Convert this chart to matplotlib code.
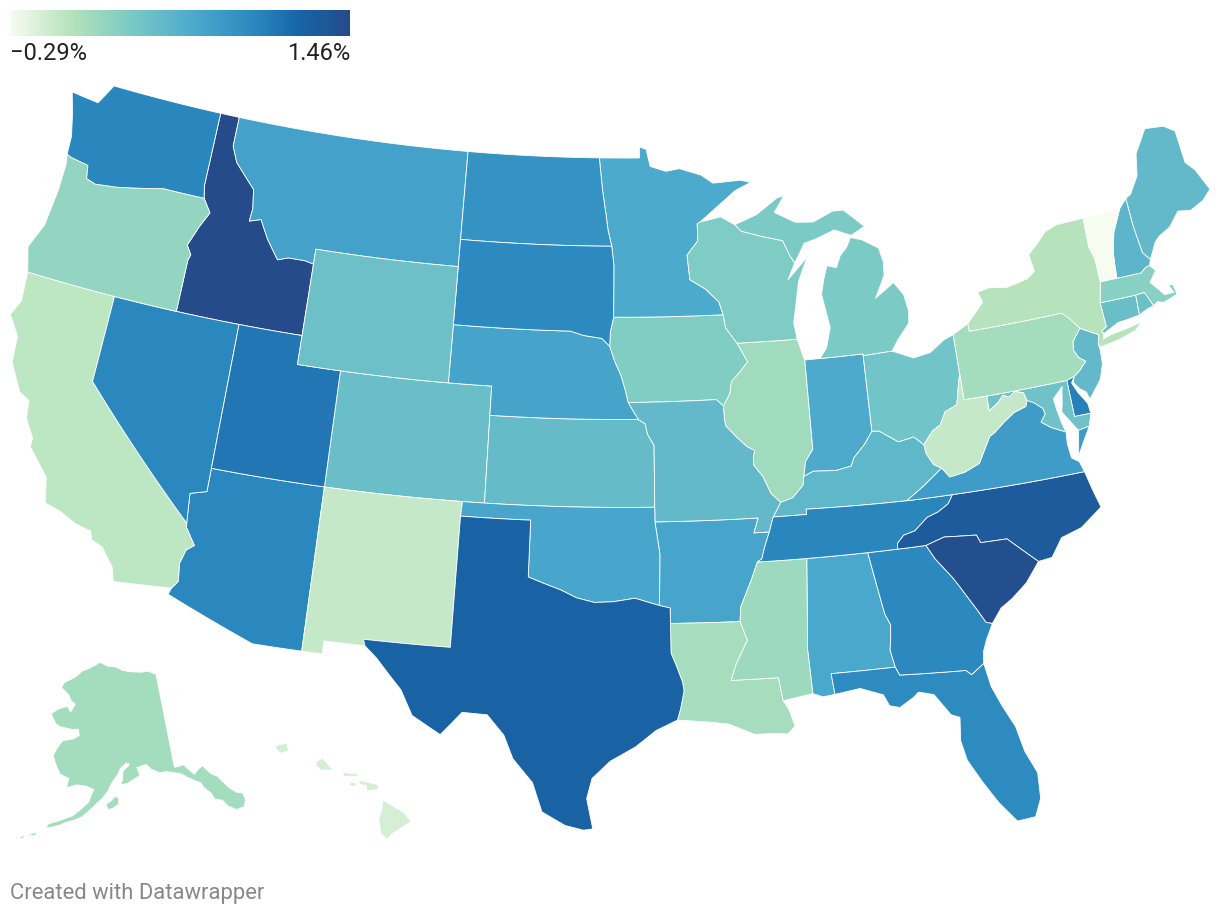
import numpy as np
import matplotlib
matplotlib.use("Agg")
import matplotlib.pyplot as plt
from matplotlib.colors import LinearSegmentedColormap, Normalize
from matplotlib.patches import Polygon

# population change by state, in percent
states = ["AL", "AK", "AZ", "AR", "CA", "CO", "CT", "DE", "FL", "GA",
          "HI", "ID", "IL", "IN", "IA", "KS", "KY", "LA", "ME", "MD",
          "MA", "MI", "MN", "MS", "MO", "MT", "NE", "NV", "NH", "NJ",
          "NM", "NY", "NC", "ND", "OH", "OK", "OR", "PA", "RI", "SC",
          "SD", "TN", "TX", "UT", "VT", "VA", "WA", "WV", "WI", "WY"]
growth = [0.67, 0.12, 0.97, 0.70, -0.01, 0.45, 0.45, 1.02, 0.94, 0.96,
          -0.12, 1.46, 0.13, 0.65, 0.30, 0.48, 0.53, 0.10, 0.50, 0.42,
          0.27, 0.33, 0.66, 0.15, 0.50, 0.74, 0.71, 0.97, 0.55, 0.50,
          -0.05, 0.02, 1.30, 0.87, 0.40, 0.69, 0.20, 0.12, 0.43, 1.42,
          0.95, 0.98, 1.23, 1.09, -0.29, 0.78, 0.98, -0.05, 0.31, 0.43]

legend_min, legend_max = -0.29, 1.46
legend_labels = ["\u22120.29%", "1.46%"]
scale_stops = [0.0, 0.18, 0.35, 0.55, 0.72, 0.85, 1.0]
scale_colors = ["#f7fcf0", "#b5e3bb", "#7ccbc5", "#4aa8cd", "#2b88bf", "#1766a8", "#264b8b"]

# simplified state outlines, (lon, lat)
shapes = {
    "WA": [[(-124.73, 48.38), (-123.3, 48.28), (-122.75, 49.0), (-117.04, 49.0), (-117.04, 46.42), (-116.92, 46.0),
            (-118.98, 46.0), (-119.9, 45.85), (-121.2, 45.65), (-122.3, 45.55), (-122.78, 45.65), (-122.9, 46.1),
            (-123.8, 46.2), (-124.05, 46.27), (-124.1, 46.9), (-124.4, 47.7)]],
    "OR": [[(-124.05, 46.27), (-123.8, 46.2), (-122.9, 46.1), (-122.78, 45.65), (-122.3, 45.55), (-121.2, 45.65),
            (-119.9, 45.85), (-118.98, 46.0), (-116.92, 46.0), (-116.48, 45.55), (-116.85, 45.0), (-117.22, 44.3),
            (-116.95, 44.0), (-117.03, 43.8), (-117.03, 42.0), (-120.0, 42.0), (-124.21, 42.0), (-124.55, 42.84),
            (-124.1, 43.7), (-123.95, 45.0), (-123.95, 45.9)]],
    "ID": [[(-117.04, 49.0), (-116.05, 49.0), (-116.05, 47.98), (-115.7, 47.45), (-114.6, 46.65), (-114.45, 46.0),
            (-114.5, 45.55), (-113.95, 45.68), (-113.45, 45.05), (-112.8, 44.42), (-112.3, 44.55), (-111.5, 44.55),
            (-111.05, 44.48), (-111.05, 42.0), (-114.04, 42.0), (-117.03, 42.0), (-117.03, 43.8), (-116.95, 44.0),
            (-117.22, 44.3), (-116.85, 45.0), (-116.48, 45.55), (-116.92, 46.0), (-117.04, 46.42)]],
    "MT": [[(-116.05, 49.0), (-104.05, 49.0), (-104.05, 45.0), (-111.05, 45.0), (-111.05, 44.48), (-111.5, 44.55),
            (-112.3, 44.55), (-112.8, 44.42), (-113.45, 45.05), (-113.95, 45.68), (-114.5, 45.55), (-114.45, 46.0),
            (-114.6, 46.65), (-115.7, 47.45), (-116.05, 47.98)]],
    "WY": [[(-111.05, 45.0), (-104.05, 45.0), (-104.05, 41.0), (-111.05, 41.0), (-111.05, 44.48)]],
    "NV": [[(-120.0, 42.0), (-114.04, 42.0), (-114.04, 36.19), (-114.74, 36.02), (-114.63, 35.0), (-120.0, 39.0)]],
    "CA": [[(-124.21, 42.0), (-120.0, 42.0), (-120.0, 39.0), (-114.63, 35.0), (-114.6, 34.85), (-114.13, 34.3),
            (-114.43, 34.1), (-114.6, 33.6), (-114.5, 33.0), (-114.72, 32.72), (-117.12, 32.53), (-117.3, 33.0),
            (-117.9, 33.6), (-118.4, 33.75), (-118.5, 34.03), (-119.2, 34.15), (-120.0, 34.45), (-120.64, 34.58),
            (-120.9, 35.45), (-121.9, 36.3), (-121.9, 36.6), (-122.4, 37.2), (-122.5, 37.8), (-123.0, 38.0),
            (-123.7, 38.9), (-123.8, 39.8), (-124.4, 40.44), (-124.1, 41.0)]],
    "AZ": [[(-114.04, 37.0), (-109.05, 37.0), (-109.05, 31.33), (-111.07, 31.33), (-114.81, 32.49), (-114.72, 32.72),
            (-114.5, 33.0), (-114.6, 33.6), (-114.43, 34.1), (-114.13, 34.3), (-114.6, 34.85), (-114.63, 35.0),
            (-114.74, 36.02), (-114.04, 36.19)]],
    "UT": [[(-114.04, 42.0), (-111.05, 42.0), (-111.05, 41.0), (-109.05, 41.0), (-109.05, 37.0), (-114.04, 37.0)]],
    "CO": [[(-109.05, 41.0), (-102.05, 41.0), (-102.05, 40.0), (-102.04, 37.0), (-109.05, 37.0)]],
    "NM": [[(-109.05, 37.0), (-103.0, 37.0), (-103.04, 36.5), (-103.06, 32.0), (-106.62, 32.0), (-106.53, 31.78),
            (-108.21, 31.78), (-108.21, 31.33), (-109.05, 31.33)]],
    "TX": [[(-103.04, 36.5), (-100.0, 36.5), (-100.0, 34.56), (-99.4, 34.38), (-98.6, 34.15), (-97.95, 33.9),
            (-97.2, 33.75), (-96.4, 33.78), (-95.5, 33.9), (-94.48, 33.64), (-94.04, 33.55), (-94.04, 33.02),
            (-94.04, 32.0), (-93.85, 31.6), (-93.6, 31.0), (-93.55, 30.7), (-93.7, 30.1), (-93.84, 29.7),
            (-94.7, 29.35), (-95.5, 28.8), (-96.5, 28.3), (-97.2, 27.7), (-97.4, 27.0), (-97.15, 25.95),
            (-97.5, 25.9), (-98.2, 26.05), (-99.1, 26.5), (-99.5, 27.5), (-100.3, 28.3), (-100.7, 29.1),
            (-101.4, 29.77), (-102.4, 29.8), (-103.2, 28.98), (-104.37, 29.56), (-104.9, 30.4), (-105.4, 30.85),
            (-106.0, 31.4), (-106.53, 31.78), (-106.62, 32.0), (-103.06, 32.0)]],
    "OK": [[(-103.0, 37.0), (-94.62, 37.0), (-94.62, 36.5), (-94.43, 35.4), (-94.48, 33.64), (-95.5, 33.9),
            (-96.4, 33.78), (-97.2, 33.75), (-97.95, 33.9), (-98.6, 34.15), (-99.4, 34.38), (-100.0, 34.56),
            (-100.0, 36.5), (-103.04, 36.5)]],
    "KS": [[(-102.05, 40.0), (-95.31, 40.0), (-95.0, 39.85), (-94.9, 39.5), (-94.61, 39.1), (-94.62, 37.0),
            (-102.04, 37.0)]],
    "NE": [[(-104.05, 43.0), (-98.5, 43.0), (-97.85, 42.86), (-97.0, 42.77), (-96.63, 42.5), (-96.4, 42.0),
            (-96.1, 41.5), (-95.9, 41.0), (-95.77, 40.58), (-95.31, 40.0), (-102.05, 40.0), (-102.05, 41.0),
            (-104.05, 41.0)]],
    "SD": [[(-104.05, 45.94), (-96.56, 45.94), (-96.45, 45.3), (-96.45, 43.5), (-96.6, 43.0), (-96.63, 42.5),
            (-97.0, 42.77), (-97.85, 42.86), (-98.5, 43.0), (-104.05, 43.0)]],
    "ND": [[(-104.05, 49.0), (-97.23, 49.0), (-97.05, 47.9), (-96.85, 47.0), (-96.75, 46.5), (-96.56, 45.94),
            (-104.05, 45.94)]],
    "MN": [[(-97.23, 49.0), (-95.15, 49.0), (-95.15, 49.38), (-94.8, 49.3), (-94.6, 48.7), (-93.8, 48.52),
            (-93.1, 48.6), (-92.0, 48.35), (-91.4, 48.05), (-90.0, 48.1), (-89.49, 48.0), (-90.3, 47.75),
            (-91.3, 47.2), (-92.15, 46.72), (-92.29, 46.67), (-92.29, 46.08), (-92.85, 45.6), (-92.75, 44.75),
            (-92.0, 44.4), (-91.4, 43.95), (-91.22, 43.5), (-96.45, 43.5), (-96.45, 45.3), (-96.56, 45.94),
            (-96.75, 46.5), (-96.85, 47.0), (-97.05, 47.9)]],
    "IA": [[(-96.45, 43.5), (-91.22, 43.5), (-91.14, 43.05), (-90.64, 42.5), (-90.2, 41.84), (-90.58, 41.52),
            (-91.0, 41.2), (-91.1, 40.8), (-91.42, 40.38), (-91.73, 40.61), (-95.77, 40.58), (-95.9, 41.0),
            (-96.1, 41.5), (-96.4, 42.0), (-96.63, 42.5), (-96.6, 43.0)]],
    "MO": [[(-95.77, 40.58), (-91.73, 40.61), (-91.42, 40.38), (-91.4, 39.93), (-91.36, 39.7), (-90.9, 39.3),
            (-90.45, 38.95), (-90.12, 38.8), (-90.2, 38.6), (-90.2, 38.3), (-89.83, 37.9), (-89.52, 37.3),
            (-89.13, 36.98), (-89.5, 36.5), (-89.71, 36.0), (-90.37, 36.0), (-90.15, 36.5), (-94.62, 36.5),
            (-94.62, 37.0), (-94.61, 39.1), (-94.9, 39.5), (-95.0, 39.85), (-95.31, 40.0)]],
    "AR": [[(-94.62, 36.5), (-90.15, 36.5), (-90.37, 36.0), (-89.71, 36.0), (-89.95, 35.5), (-90.1, 35.1),
            (-90.3, 35.0), (-90.6, 34.4), (-91.1, 33.5), (-91.16, 33.0), (-94.04, 33.02), (-94.04, 33.55),
            (-94.48, 33.64), (-94.43, 35.4)]],
    "LA": [[(-94.04, 33.02), (-91.16, 33.0), (-90.9, 32.35), (-91.4, 31.56), (-91.64, 31.0), (-89.73, 31.0),
            (-89.6, 30.2), (-89.4, 29.9), (-89.2, 29.3), (-89.5, 29.05), (-90.1, 29.1), (-90.8, 29.1),
            (-91.8, 29.5), (-92.6, 29.6), (-93.84, 29.7), (-93.7, 30.1), (-93.55, 30.7), (-93.6, 31.0),
            (-93.85, 31.6), (-94.04, 32.0)]],
    "MS": [[(-91.16, 33.0), (-91.1, 33.5), (-90.6, 34.4), (-90.3, 35.0), (-88.2, 35.0), (-88.47, 31.9),
            (-88.4, 30.37), (-89.6, 30.2), (-89.73, 31.0), (-91.64, 31.0), (-91.4, 31.56), (-90.9, 32.35)]],
    "TN": [[(-89.5, 36.5), (-88.05, 36.5), (-88.05, 36.68), (-83.68, 36.6), (-81.68, 36.59), (-81.93, 36.3),
            (-82.4, 36.08), (-82.9, 35.95), (-83.5, 35.55), (-84.0, 35.45), (-84.3, 35.2), (-84.32, 35.0),
            (-85.6, 35.0), (-88.2, 35.0), (-90.3, 35.0), (-90.1, 35.1), (-89.95, 35.5), (-89.71, 36.0)]],
    "KY": [[(-89.13, 36.98), (-88.6, 37.1), (-88.1, 37.5), (-88.03, 37.8), (-87.6, 37.95), (-86.6, 37.9),
            (-85.9, 38.0), (-85.75, 38.27), (-85.2, 38.7), (-84.82, 39.1), (-84.5, 39.08), (-83.7, 38.63),
            (-83.0, 38.73), (-82.6, 38.42), (-82.55, 38.1), (-82.3, 37.7), (-81.97, 37.54), (-82.9, 37.0),
            (-83.68, 36.6), (-88.05, 36.68), (-88.05, 36.5), (-89.5, 36.5)]],
    "IL": [[(-87.8, 42.49), (-90.64, 42.5), (-90.2, 41.84), (-90.58, 41.52), (-91.0, 41.2), (-91.1, 40.8),
            (-91.42, 40.38), (-91.4, 39.93), (-91.36, 39.7), (-90.9, 39.3), (-90.45, 38.95), (-90.12, 38.8),
            (-90.2, 38.6), (-90.2, 38.3), (-89.83, 37.9), (-89.52, 37.3), (-89.13, 36.98), (-88.6, 37.1),
            (-88.1, 37.5), (-88.03, 37.8), (-87.9, 38.3), (-87.53, 38.7), (-87.53, 41.76), (-87.6, 41.9)]],
    "IN": [[(-87.53, 41.76), (-86.82, 41.76), (-84.81, 41.76), (-84.81, 41.7), (-84.82, 39.1), (-85.2, 38.7),
            (-85.75, 38.27), (-85.9, 38.0), (-86.6, 37.9), (-87.6, 37.95), (-88.03, 37.8), (-87.9, 38.3),
            (-87.53, 38.7)]],
    "OH": [[(-84.81, 41.7), (-83.45, 41.73), (-82.5, 41.4), (-81.7, 41.5), (-81.0, 41.85), (-80.52, 41.98),
            (-80.52, 40.64), (-80.72, 40.07), (-80.87, 39.6), (-81.45, 39.42), (-81.75, 39.0), (-82.13, 38.84),
            (-82.6, 38.42), (-83.0, 38.73), (-83.7, 38.63), (-84.5, 39.08), (-84.82, 39.1)]],
    "MI": [[(-86.82, 41.76), (-84.81, 41.76), (-84.81, 41.7), (-83.45, 41.73), (-83.1, 42.1), (-82.5, 42.6),
            (-82.42, 43.0), (-82.55, 43.6), (-82.95, 44.05), (-83.9, 43.6), (-83.6, 44.0), (-83.35, 44.35),
            (-83.3, 44.8), (-83.45, 45.3), (-84.2, 45.65), (-84.75, 45.78), (-85.0, 45.45), (-85.35, 45.2),
            (-85.6, 44.8), (-86.05, 44.9), (-86.25, 44.5), (-86.45, 43.95), (-86.3, 43.23), (-86.2, 42.78),
            (-86.47, 42.1)],
           [(-90.42, 46.57), (-89.3, 46.87), (-88.2, 47.4), (-87.85, 47.45), (-88.4, 46.9), (-87.4, 46.5),
            (-86.5, 46.45), (-85.5, 46.75), (-84.95, 46.75), (-84.5, 46.45), (-84.0, 46.1), (-84.7, 45.85),
            (-85.5, 46.1), (-86.5, 45.85), (-87.05, 45.75), (-87.6, 45.1), (-87.8, 45.35), (-88.1, 45.9),
            (-89.1, 46.1), (-90.12, 46.33)]],
    "WI": [[(-92.15, 46.72), (-91.1, 46.87), (-90.42, 46.57), (-90.12, 46.33), (-89.1, 46.1), (-88.1, 45.9),
            (-87.8, 45.35), (-87.6, 45.1), (-88.0, 44.55), (-86.95, 45.28), (-87.25, 44.85), (-87.5, 44.45),
            (-87.7, 43.75), (-87.9, 43.05), (-87.8, 42.49), (-90.64, 42.5), (-91.14, 43.05), (-91.22, 43.5),
            (-91.4, 43.95), (-92.0, 44.4), (-92.75, 44.75), (-92.85, 45.6), (-92.29, 46.08), (-92.29, 46.67)]],
    "AL": [[(-88.2, 35.0), (-85.6, 35.0), (-85.18, 32.86), (-84.99, 32.46), (-85.05, 32.0), (-85.13, 31.6),
            (-85.0, 31.0), (-87.6, 31.0), (-87.52, 30.28), (-88.0, 30.23), (-88.4, 30.37), (-88.47, 31.9)]],
    "GA": [[(-85.6, 35.0), (-84.32, 35.0), (-83.11, 35.0), (-82.8, 34.5), (-82.2, 33.8), (-81.97, 33.47),
            (-81.4, 32.6), (-81.1, 32.1), (-80.85, 32.03), (-81.2, 31.5), (-81.4, 31.1), (-81.45, 30.72),
            (-82.0, 30.4), (-82.2, 30.57), (-84.86, 30.71), (-85.0, 31.0), (-85.13, 31.6), (-85.05, 32.0),
            (-84.99, 32.46), (-85.18, 32.86)]],
    "FL": [[(-87.6, 31.0), (-85.0, 31.0), (-84.86, 30.71), (-82.2, 30.57), (-82.0, 30.4), (-81.45, 30.72),
            (-81.3, 29.9), (-81.0, 29.2), (-80.6, 28.4), (-80.4, 27.5), (-80.05, 26.7), (-80.1, 25.8),
            (-80.4, 25.2), (-81.1, 25.15), (-81.7, 25.9), (-82.2, 26.7), (-82.65, 27.5), (-82.8, 28.2),
            (-82.7, 29.0), (-83.03, 29.13), (-83.6, 29.9), (-84.2, 30.05), (-84.4, 29.9), (-85.0, 29.6),
            (-85.4, 29.7), (-85.6, 30.1), (-86.5, 30.4), (-87.52, 30.28)]],
    "SC": [[(-83.11, 35.0), (-82.3, 35.2), (-80.93, 35.1), (-80.8, 34.82), (-79.68, 34.8), (-78.54, 33.85),
            (-79.2, 33.2), (-79.9, 32.75), (-80.4, 32.5), (-80.85, 32.03), (-81.1, 32.1), (-81.4, 32.6),
            (-81.97, 33.47), (-82.2, 33.8), (-82.8, 34.5)]],
    "NC": [[(-84.32, 35.0), (-84.3, 35.2), (-84.0, 35.45), (-83.5, 35.55), (-82.9, 35.95), (-82.4, 36.08),
            (-81.93, 36.3), (-81.68, 36.59), (-75.87, 36.55), (-75.7, 35.9), (-75.5, 35.25), (-76.5, 34.7),
            (-77.4, 34.5), (-77.95, 33.9), (-78.54, 33.85), (-79.68, 34.8), (-80.8, 34.82), (-80.93, 35.1),
            (-82.3, 35.2), (-83.11, 35.0)]],
    "VA": [[(-75.87, 36.55), (-81.68, 36.59), (-83.68, 36.6), (-82.9, 37.0), (-81.97, 37.54), (-81.68, 37.2),
            (-81.0, 37.28), (-80.3, 37.5), (-80.0, 37.9), (-79.65, 38.35), (-79.4, 38.45), (-78.9, 38.75),
            (-78.4, 39.0), (-77.83, 39.13), (-77.73, 39.32), (-77.45, 39.2), (-77.1, 38.95), (-77.05, 38.75),
            (-77.3, 38.5), (-76.9, 38.25), (-76.3, 38.0), (-76.35, 37.6), (-76.3, 37.1), (-76.0, 36.92)],
           [(-75.97, 37.12), (-75.75, 37.97), (-75.24, 38.03), (-75.6, 37.6)]],
    "WV": [[(-80.52, 40.64), (-80.52, 39.72), (-79.48, 39.72), (-79.48, 39.2), (-79.0, 39.45), (-78.76, 39.65),
            (-78.5, 39.55), (-78.18, 39.7), (-77.82, 39.6), (-77.73, 39.32), (-77.83, 39.13), (-78.4, 39.0),
            (-78.9, 38.75), (-79.4, 38.45), (-79.65, 38.35), (-80.0, 37.9), (-80.3, 37.5), (-81.0, 37.28),
            (-81.68, 37.2), (-81.97, 37.54), (-82.3, 37.7), (-82.55, 38.1), (-82.6, 38.42), (-82.13, 38.84),
            (-81.75, 39.0), (-81.45, 39.42), (-80.87, 39.6), (-80.72, 40.07)]],
    "MD": [[(-79.48, 39.72), (-75.79, 39.72), (-75.79, 38.46), (-75.05, 38.45), (-75.24, 38.03), (-75.75, 37.97),
            (-76.0, 38.3), (-76.3, 38.7), (-76.2, 39.0), (-76.1, 39.4), (-76.05, 39.55), (-76.55, 39.2),
            (-76.5, 38.8), (-76.4, 38.3), (-76.3, 38.0), (-76.9, 38.25), (-77.3, 38.5), (-77.05, 38.75),
            (-77.1, 38.95), (-77.45, 39.2), (-77.73, 39.32), (-77.82, 39.6), (-78.18, 39.7), (-78.5, 39.55),
            (-78.76, 39.65), (-79.0, 39.45), (-79.48, 39.2)]],
    "DE": [[(-75.79, 39.72), (-75.42, 39.8), (-75.6, 39.6), (-75.42, 39.25), (-75.09, 38.8), (-75.05, 38.45),
            (-75.79, 38.46)]],
    "PA": [[(-80.52, 41.98), (-79.76, 42.27), (-79.76, 42.0), (-75.36, 42.0), (-75.1, 41.8), (-74.69, 41.36),
            (-75.13, 40.97), (-75.2, 40.69), (-75.05, 40.4), (-74.76, 40.22), (-75.13, 39.95), (-75.42, 39.8),
            (-75.79, 39.72), (-79.48, 39.72), (-80.52, 39.72), (-80.52, 40.64)]],
    "NJ": [[(-74.69, 41.36), (-73.9, 41.0), (-74.02, 40.7), (-74.0, 40.45), (-74.05, 40.0), (-74.3, 39.5),
            (-74.95, 38.93), (-75.05, 39.2), (-75.3, 39.35), (-75.52, 39.6), (-75.42, 39.8), (-75.13, 39.95),
            (-74.76, 40.22), (-75.05, 40.4), (-75.2, 40.69), (-75.13, 40.97)]],
    "NY": [[(-79.76, 42.27), (-79.76, 42.0), (-75.36, 42.0), (-75.1, 41.8), (-74.69, 41.36), (-73.9, 41.0),
            (-74.02, 40.7), (-73.95, 40.58), (-73.0, 40.68), (-72.2, 40.85), (-71.86, 41.07), (-72.6, 40.98),
            (-73.4, 40.9), (-73.75, 40.82), (-73.66, 41.0), (-73.73, 41.1), (-73.48, 41.21), (-73.5, 42.05),
            (-73.26, 42.75), (-73.25, 43.57), (-73.4, 44.0), (-73.34, 45.01), (-74.7, 45.0), (-75.3, 44.85),
            (-75.8, 44.5), (-76.3, 44.2), (-76.2, 43.6), (-76.6, 43.4), (-77.6, 43.25), (-78.5, 43.35),
            (-79.05, 43.27), (-78.9, 42.9)]],
    "VT": [[(-73.26, 42.75), (-72.46, 42.73), (-72.4, 43.2), (-72.32, 43.65), (-72.05, 44.3), (-71.5, 45.01),
            (-73.34, 45.01), (-73.4, 44.0), (-73.25, 43.57)]],
    "NH": [[(-72.46, 42.73), (-71.3, 42.7), (-71.0, 42.85), (-70.81, 42.87), (-70.7, 43.06), (-70.98, 43.35),
            (-71.08, 44.3), (-71.08, 45.3), (-71.5, 45.01), (-72.05, 44.3), (-72.32, 43.65), (-72.4, 43.2)]],
    "ME": [[(-70.7, 43.06), (-70.25, 43.6), (-70.0, 43.75), (-69.4, 43.95), (-68.8, 44.4), (-68.2, 44.3),
            (-67.5, 44.5), (-67.0, 44.8), (-67.43, 45.6), (-67.78, 45.93), (-67.8, 47.07), (-68.3, 47.35),
            (-69.23, 47.45), (-70.0, 46.7), (-70.25, 45.95), (-70.8, 45.4), (-71.08, 45.3), (-71.08, 44.3),
            (-70.98, 43.35)]],
    "MA": [[(-73.5, 42.05), (-73.26, 42.75), (-72.46, 42.73), (-71.3, 42.7), (-71.0, 42.85), (-70.81, 42.87),
            (-70.6, 42.65), (-71.0, 42.3), (-70.65, 41.95), (-70.5, 41.77), (-70.05, 41.76), (-70.2, 42.06),
            (-70.0, 42.02), (-69.95, 41.8), (-69.93, 41.67), (-70.5, 41.55), (-70.65, 41.53), (-70.9, 41.6),
            (-71.12, 41.5), (-71.2, 41.67), (-71.38, 42.02), (-71.8, 42.01)]],
    "RI": [[(-71.8, 42.01), (-71.38, 42.02), (-71.2, 41.67), (-71.12, 41.5), (-71.45, 41.45), (-71.86, 41.32)]],
    "CT": [[(-73.5, 42.05), (-71.8, 42.01), (-71.86, 41.32), (-72.5, 41.27), (-72.9, 41.25), (-73.3, 41.12),
            (-73.66, 41.0), (-73.73, 41.1), (-73.48, 41.21)]],
    "AK": [[(-141.0, 69.65), (-141.0, 60.3), (-139.1, 60.35), (-137.5, 59.2), (-136.5, 59.6), (-135.5, 59.8),
            (-134.5, 58.9), (-133.4, 58.4), (-132.5, 57.5), (-132.0, 57.0), (-131.0, 56.3), (-130.0, 56.0),
            (-130.0, 55.3), (-130.6, 54.7), (-132.0, 54.7), (-133.2, 55.3), (-133.8, 56.0), (-135.0, 56.3),
            (-135.4, 57.0), (-136.5, 57.8), (-136.6, 58.2), (-137.7, 58.6), (-139.0, 59.1), (-139.8, 59.5),
            (-141.3, 59.8), (-142.8, 60.05), (-144.0, 60.0), (-145.7, 60.5), (-146.5, 61.0), (-148.5, 60.8),
            (-148.0, 60.0), (-149.5, 59.6), (-150.5, 59.3), (-151.9, 59.2), (-151.5, 59.65), (-151.3, 60.55),
            (-150.2, 61.0), (-149.9, 61.2), (-150.6, 61.3), (-151.8, 60.8), (-152.3, 60.3), (-153.0, 59.8),
            (-153.8, 59.2), (-154.2, 58.7), (-155.3, 57.9), (-156.3, 57.4), (-157.5, 56.7), (-158.8, 56.0),
            (-160.0, 55.6), (-161.5, 55.3), (-162.5, 54.95), (-163.5, 54.7), (-164.9, 54.45), (-164.5, 54.9),
            (-163.0, 55.3), (-160.5, 56.0), (-159.0, 56.8), (-157.8, 57.5), (-157.4, 58.2), (-157.0, 58.7),
            (-158.5, 59.0), (-160.4, 59.05), (-162.2, 58.65), (-162.0, 59.6), (-163.8, 59.9), (-164.6, 60.5),
            (-165.3, 61.1), (-165.8, 61.6), (-165.3, 62.3), (-164.8, 62.8), (-164.2, 63.2), (-162.0, 63.5),
            (-160.8, 63.9), (-161.2, 64.5), (-162.5, 64.4), (-165.4, 64.5), (-166.5, 64.7), (-168.0, 65.6),
            (-166.5, 66.2), (-164.5, 66.6), (-163.5, 66.1), (-162.6, 66.9), (-163.8, 67.2), (-164.5, 67.7),
            (-166.8, 68.35), (-166.2, 68.9), (-163.5, 69.6), (-161.8, 70.3), (-160.0, 70.6), (-156.8, 71.3),
            (-154.5, 70.9), (-152.2, 70.85), (-150.5, 70.5), (-148.5, 70.3), (-145.0, 70.1), (-143.0, 70.1)],
           [(-152.3, 57.9), (-152.4, 57.3), (-153.3, 56.95), (-154.2, 56.75), (-154.7, 57.3), (-153.8, 57.6),
            (-153.0, 58.05)],
           [(-167.8, 53.4), (-166.0, 53.95), (-166.5, 53.5)],
           [(-169.2, 52.85), (-167.9, 53.5), (-168.3, 53.0)]],
    "HI": [[(-155.85, 20.27), (-155.1, 19.85), (-154.8, 19.52), (-155.5, 19.1), (-155.68, 18.91), (-155.9, 19.1),
            (-155.98, 19.6), (-155.85, 20.0)],
           [(-156.7, 20.95), (-156.0, 20.8), (-156.0, 20.63), (-156.4, 20.58), (-156.45, 20.78), (-156.68, 20.8)],
           [(-157.3, 21.22), (-156.75, 21.17), (-156.7, 21.1), (-157.25, 21.08)],
           [(-157.0, 20.9), (-156.8, 20.85), (-156.85, 20.73), (-157.05, 20.77)],
           [(-158.28, 21.58), (-158.05, 21.72), (-157.65, 21.3), (-158.1, 21.3), (-158.27, 21.45)],
           [(-159.75, 22.15), (-159.35, 22.23), (-159.3, 21.95), (-159.6, 21.88), (-159.78, 22.05)]],
}

# Albers USA style projection (d3 parameters), scale / translate fitted to 1220x916
K, TX, TY = 1663.0, 609.6, 457.6


def conic_equal_area(lon, lat, rotate, parallels, center, k, tx, ty):
    s1, s2 = np.sin(np.radians(parallels[0])), np.sin(np.radians(parallels[1]))
    n = (s1 + s2) / 2
    c = 1 + s1 * (2 * n - s1)
    r0 = np.sqrt(c) / n

    def raw(lam, phi):
        r = np.sqrt(c - 2 * n * np.sin(phi)) / n
        return r * np.sin(lam * n), r0 - r * np.cos(lam * n)

    cx, cy = raw(np.radians(center[0]), np.radians(center[1]))
    x, y = raw(np.radians(np.asarray(lon) + rotate), np.radians(np.asarray(lat)))
    return tx + k * (x - cx), ty - k * (y - cy)


def project(state, lon, lat):
    if state == "AK":
        return conic_equal_area(lon, lat, 154, (55, 65), (-2, 58.5), K * 0.35, TX - 0.307 * K, TY + 0.201 * K)
    if state == "HI":
        return conic_equal_area(lon, lat, 157, (8, 18), (-3, 19.9), K, TX - 0.205 * K, TY + 0.212 * K)
    return conic_equal_area(lon, lat, 96, (29.5, 45.5), (-0.6, 38.7), K, TX, TY)


def densify(ring, step=0.5):
    pts = []
    for a, b in zip(ring, ring[1:] + ring[:1]):
        m = max(1, int(np.ceil(max(abs(b[0] - a[0]), abs(b[1] - a[1])) / step)))
        for t in np.arange(m) / m:
            pts.append((a[0] + (b[0] - a[0]) * t, a[1] + (b[1] - a[1]) * t))
    return np.array(pts)


cmap = LinearSegmentedColormap.from_list("dw", list(zip(scale_stops, scale_colors)))
norm = Normalize(legend_min, legend_max)

fig = plt.figure(figsize=(12.2, 9.16), dpi=100)
ax = fig.add_axes([0, 0, 1, 1])
ax.set_xlim(0, 1220)
ax.set_ylim(916, 0)
ax.axis("off")

for st, val in zip(states, growth):
    for ring in shapes[st]:
        pts = densify(ring)
        x, y = project(st, pts[:, 0], pts[:, 1])
        ax.add_patch(Polygon(np.column_stack([x, y]), closed=True, facecolor=cmap(norm(val)),
                             edgecolor="white", linewidth=0.6, joinstyle="round"))

# legend
ax.imshow(np.linspace(0, 1, 256)[None, :], cmap=cmap, aspect="auto", extent=(10, 350, 36, 10))
ax.text(10, 59.5, legend_labels[0], ha="left", va="baseline", fontsize=17, color="#222222", family="Roboto")
ax.text(350, 59.5, legend_labels[1], ha="right", va="baseline", fontsize=17, color="#222222", family="Roboto")

ax.text(10, 899, "Created with Datawrapper", ha="left", va="baseline", fontsize=15.8, color="#888888",
        family="Roboto")

fig.savefig("out.png", dpi=100)
